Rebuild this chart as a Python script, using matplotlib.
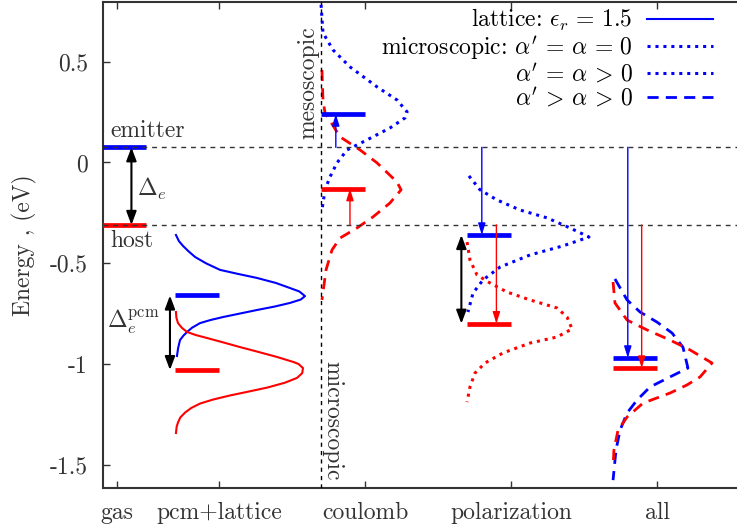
import matplotlib
matplotlib.use('Agg')
import matplotlib.pyplot as plt

plt.rcParams['font.family'] = ['cmr10', 'DejaVu Serif']
plt.rcParams['mathtext.fontset'] = 'cm'
plt.rcParams['axes.unicode_minus'] = False
plt.rcParams['axes.formatter.use_mathtext'] = True

# columns on the x axis
col_ticks = [0.3, 1.0, 2.0, 3.0, 4.0]
col_names = ['gas', 'pcm+lattice', 'coulomb', 'polarization', 'all']
col_base = [0.2, 0.7, 1.7, 2.7, 3.7]
level_width = 0.3

# energy levels (eV) per column
emitter_levels = [0.075, -0.66, 0.24, -0.36, -0.97]
host_levels = [-0.31, -1.03, -0.13, -0.80, -1.02]

# pcm+lattice distributions (solid)
pcm_em_E = [-0.36, -0.39, -0.414, -0.44, -0.469, -0.50, -0.533, -0.553, -0.573, -0.598,
            -0.623, -0.64, -0.663, -0.68, -0.697, -0.715, -0.732, -0.75, -0.767, -0.782,
            -0.797, -0.82, -0.841, -0.86, -0.881, -0.92, -0.96]
pcm_em_x = [0.705, 0.725, 0.753, 0.79, 0.836, 0.91, 1.007, 1.13, 1.26, 1.39,
            1.486, 1.55, 1.589, 1.56, 1.486, 1.38, 1.26, 1.14, 1.027, 0.94,
            0.87, 0.815, 0.781, 0.755, 0.733, 0.72, 0.712]
pcm_ho_E = [-0.742, -0.77, -0.797, -0.82, -0.841, -0.856, -0.871, -0.893, -0.916, -0.94,
            -0.965, -0.99, -1.0, -1.02, -1.045, -1.069, -1.093, -1.117, -1.137, -1.156,
            -1.176, -1.196, -1.218, -1.241, -1.265, -1.29, -1.31, -1.342]
pcm_ho_x = [0.705, 0.708, 0.719, 0.745, 0.781, 0.84, 0.918, 1.03, 1.144, 1.27,
            1.397, 1.51, 1.545, 1.575, 1.57, 1.534, 1.45, 1.329, 1.2, 1.075,
            0.96, 0.87, 0.81, 0.767, 0.735, 0.719, 0.71, 0.705]

# coulomb distributions
cou_em_E = [0.782, 0.643, 0.558, 0.474, 0.375, 0.31, 0.251, 0.221, 0.171, 0.112,
            0.062, -0.002, -0.072, -0.136, -0.236]
cou_em_x = [1.699, 1.712, 1.781, 1.897, 2.082, 2.219, 2.288, 2.274, 2.171, 2.014,
            1.877, 1.808, 1.76, 1.726, 1.705]
cou_ho_E = [0.459, 0.31, 0.246, 0.127, 0.062, -0.002, -0.097, -0.136, -0.201, -0.27,
            -0.325, -0.375, -0.434, -0.533, -0.682]
cou_ho_x = [1.705, 1.712, 1.726, 1.829, 1.966, 2.082, 2.219, 2.247, 2.171, 2.055,
            1.945, 1.829, 1.774, 1.733, 1.705]

# polarization distributions
pol_em_E = [-0.067, -0.136, -0.186, -0.236, -0.275, -0.325, -0.37, -0.414, -0.459, -0.519,
            -0.583, -0.648, -0.742]
pol_em_x = [2.712, 2.788, 2.904, 3.062, 3.247, 3.404, 3.534, 3.356, 3.13, 2.925,
            2.808, 2.74, 2.705]
pol_ho_E = [-0.395, -0.484, -0.558, -0.598, -0.643, -0.682, -0.722, -0.767, -0.826, -0.866,
            -0.896, -0.945, -0.995, -1.045, -1.114, -1.189]
pol_ho_x = [2.699, 2.719, 2.767, 2.856, 2.973, 3.13, 3.315, 3.384, 3.418, 3.315,
            3.13, 2.945, 2.822, 2.753, 2.719, 2.699]

# all contributions
all_em_E = [-0.578, -0.682, -0.742, -0.792, -0.846, -0.917, -1.02, -1.064, -1.114, -1.179,
            -1.243, -1.328, -1.427, -1.576]
all_em_x = [3.712, 3.795, 3.884, 4.0, 4.103, 4.178, 4.212, 4.089, 3.952, 3.863,
            3.795, 3.747, 3.719, 3.699]
all_ho_E = [-0.593, -0.697, -0.782, -0.831, -0.881, -0.93, -0.995, -1.064, -1.104, -1.144,
            -1.194, -1.263, -1.328, -1.427, -1.511]
all_ho_x = [3.699, 3.712, 3.795, 3.932, 4.089, 4.226, 4.377, 4.295, 4.205, 4.089,
            3.904, 3.795, 3.733, 3.705, 3.699]

# x positions of the transition arrows (emitter, host)
shift_em_x = [1.80, 2.80, 3.80]
shift_ho_x = [1.897, 2.90, 3.895]
meso_x = 1.70

blue = '#0000ff'
red = '#ff0000'
ink = '#333333'
fs = 17

fig = plt.figure(figsize=(7.37, 5.29), dpi=100)
ax = fig.add_axes([0.1398, 0.0775, 0.8602, 0.918])

dot = (0, (1.0, 1.6))
dash = (0, (4.0, 2.6))

ax.plot(pcm_em_x, pcm_em_E, color=blue, lw=1.5, solid_joinstyle='round',
        label=r'lattice: $\epsilon_r\,=\,1.5$')
ax.plot(pcm_ho_x, pcm_ho_E, color=red, lw=1.5, solid_joinstyle='round')
ax.plot(cou_em_x, cou_em_E, color=blue, lw=2.2, ls=dot,
        label=r"microscopic: $\alpha'\,=\,\alpha\,=\,0$")
ax.plot(cou_ho_x, cou_ho_E, color=red, lw=2.0, ls=dash)
ax.plot(pol_em_x, pol_em_E, color=blue, lw=2.2, ls=dot, label=r"$\alpha'\,=\,\alpha\,>\,0$")
ax.plot(pol_ho_x, pol_ho_E, color=red, lw=2.2, ls=dot)
ax.plot(all_em_x, all_em_E, color=blue, lw=2.0, ls=dash, label=r"$\alpha'\,>\,\alpha\,>\,0$")
ax.plot(all_ho_x, all_ho_E, color=red, lw=2.0, ls=dash)

# energy levels
for xb, e_em, e_ho in zip(col_base, emitter_levels, host_levels):
    ax.hlines(e_em, xb, xb + level_width, color=blue, lw=3.4, zorder=3)
    ax.hlines(e_ho, xb, xb + level_width, color=red, lw=3.4, zorder=3)

# reference lines
ax.axhline(emitter_levels[0], color=ink, lw=1.0, ls=(0, (3.5, 3.5)), zorder=4)
ax.axhline(host_levels[0], color=ink, lw=1.0, ls=(0, (3.5, 3.5)), zorder=4)
ax.axvline(meso_x, color='black', lw=1.0, ls=(0, (3, 3)), zorder=4)

# level shifts relative to the gas phase
thin = dict(arrowstyle='-|>,head_length=0.7,head_width=0.22', lw=1.0, shrinkA=0, shrinkB=0)
for xa, e_to in zip(shift_em_x, emitter_levels[2:]):
    ax.annotate('', xy=(xa, e_to), xytext=(xa, emitter_levels[0]),
                arrowprops=dict(color=blue, **thin), zorder=5)
for xa, e_to in zip(shift_ho_x, host_levels[2:]):
    ax.annotate('', xy=(xa, e_to), xytext=(xa, host_levels[0]),
                arrowprops=dict(color=red, **thin), zorder=5)

# gaps
thick = dict(arrowstyle='<|-|>,head_length=0.8,head_width=0.3', lw=1.5, color='black',
             shrinkA=0, shrinkB=0)
ax.annotate('', xy=(0.40, host_levels[0]), xytext=(0.40, emitter_levels[0]), arrowprops=thick, zorder=5)
ax.annotate('', xy=(0.664, host_levels[1]), xytext=(0.664, emitter_levels[1]), arrowprops=thick, zorder=5)
ax.annotate('', xy=(2.66, host_levels[3]), xytext=(2.66, emitter_levels[3]), arrowprops=thick, zorder=5)

ax.text(0.253, 0.155, 'emitter', fontsize=fs, color=ink, ha='left', va='center')
ax.text(0.253, -0.39, 'host', fontsize=fs, color=ink, ha='left', va='center')
ax.text(0.44, -0.13, r'$\Delta_e$', fontsize=fs, color=ink, ha='left', va='center')
ax.text(0.233, -0.79, r'$\Delta_e^{\rm pcm}$', fontsize=fs, color=ink, ha='left', va='center')
ax.text(1.613, 0.395, 'mesoscopic', fontsize=fs, color=ink, rotation=90, ha='center', va='center')
ax.text(1.78, -1.28, 'microscopic', fontsize=fs, color=ink, rotation=-90, ha='center', va='center')

ax.set_xlim(0.2055, 4.548)
ax.set_ylim(-1.615, 0.794)
ax.set_xticks(col_ticks)
ax.set_xticklabels(col_names)
ax.set_yticks([0.5, 0, -0.5, -1, -1.5])
ax.set_yticklabels(['0.5', '0', '-0.5', '-1', '-1.5'])
ax.tick_params(direction='in', length=5, width=1, colors=ink, labelsize=fs,
               top=True, right=False)
ax.tick_params(axis='x', pad=10)
ax.tick_params(axis='y', pad=11)
for side in ['left', 'bottom', 'top']:
    ax.spines[side].set_color(ink)
    ax.spines[side].set_linewidth(1.5)
ax.spines['right'].set_visible(False)

ax.set_ylabel('Energy , (eV)', fontsize=fs, color=ink)
ax.yaxis.set_label_coords(-0.104, 0.5)

ax.legend(loc='upper right', bbox_to_anchor=(0.962, 0.99), frameon=False, markerfirst=False,
          fontsize=fs, handlelength=2.8, handletextpad=0.6, labelspacing=0.02,
          borderpad=0, borderaxespad=0)

fig.savefig('out.png', dpi=100)
